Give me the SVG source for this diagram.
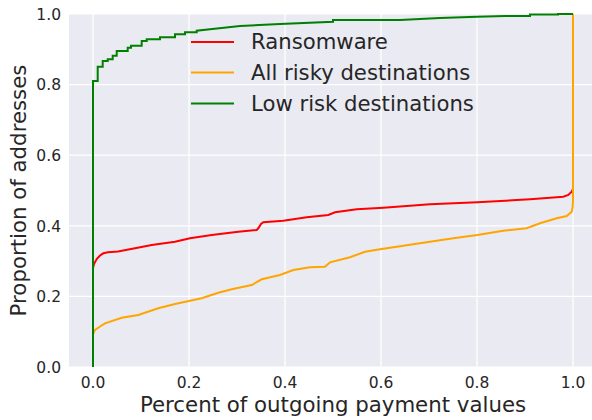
<svg xmlns="http://www.w3.org/2000/svg" width="592" height="420" viewBox="0 0 592 420">
<style>
text{font-family:"DejaVu Sans","Liberation Sans",sans-serif;fill:#262626}
.tick{font-size:15.5px}
.lab{font-size:21.3px}
.leg{font-size:21.2px}
.grid{stroke:#ffffff;stroke-width:1.2;fill:none}
.curve{fill:none;stroke-width:2;stroke-linejoin:miter}
</style>
<rect x="0" y="0" width="592" height="420" fill="#ffffff"/>
<rect id="plot-area" x="69" y="14" width="528" height="353" fill="#EAEAF2"/>
<g id="grid" class="grid">
<path d="M93,14V367M189,14V367M285,14V367M381,14V367M477,14V367M573,14V367"/>
<path d="M69,14H597M69,84.6H597M69,155.2H597M69,225.8H597M69,296.4H597M69,367H597"/>
</g>
<g id="curves">
<path id="ransomware" class="curve" stroke="#FF0000" d="M93,367V268L94,264L96.7,259L100,255.5L103.3,253.3L108,252.3L118,251.5L135,248.3L151.7,245L175,241.7L190,238.3L211.7,235L238.3,231.7L256.7,230L258.3,228.3L261,224L263.3,222.3L283.3,220.7L306.7,217.3L328.3,215L335,212.3L356.7,209.3L383.3,207.7L430,204.3L477.3,202.3L530,199.3L563.3,196.7L568.3,195L571.7,191.7L573,189V14"/>
<path id="all-risky" class="curve" stroke="#FFA500" d="M93,367V334L95,330L100,326.5L105,323.3L121.7,317.7L138.3,315L158.3,308.3L175,304L190,300.7L201.7,298.3L218.3,292.7L231.7,289.3L251.7,285L261.7,279.3L280,275L293.3,270L310,267.3L325,266.7L330,262.3L350,257.3L365,251.7L380,249.3L393.3,247.3L430,241.7L453.3,238.3L477.3,235L503.3,230.7L526.7,228.3L540,223.3L556.7,218.3L566.7,216L571.7,211.7L572.7,206.7L573,200V14"/>
<path id="low-risk" class="curve" stroke="#008000" d="M93,367V81H97.7V66.7H102.7V61H107.7V59.3H112.7V55.7H116.7V51H127.7V47.7H131V45.7H141.7V41H146.7V39.3H160V37.3H175V34.3H185V32.3H196.7V30.7L210,29.3L240,26L280,24L333,21.7V20H400L440,18L477,16.7L505,16H530V14.5H558V14H573"/>
</g>
<g id="y-ticks" class="tick" text-anchor="end">
<text x="61" y="19.8">1.0</text>
<text x="61" y="90.4">0.8</text>
<text x="61" y="161">0.6</text>
<text x="61" y="231.6">0.4</text>
<text x="61" y="302.2">0.2</text>
<text x="61" y="372.8">0.0</text>
</g>
<g id="x-ticks" class="tick" text-anchor="middle">
<text x="93" y="388">0.0</text>
<text x="189" y="388">0.2</text>
<text x="285" y="388">0.4</text>
<text x="381" y="388">0.6</text>
<text x="477" y="388">0.8</text>
<text x="573" y="388">1.0</text>
</g>
<g id="axis-labels" class="lab" text-anchor="middle">
<text x="333" y="412">Percent of outgoing payment values</text>
<text transform="translate(25.5,190.5) rotate(-90)">Proportion of addresses</text>
</g>
<g id="legend">
<g id="legend-ransomware"><path d="M191,42H234" stroke="#FF0000" stroke-width="2"/><text class="leg" x="251" y="48.5">Ransomware</text></g>
<g id="legend-all-risky"><path d="M191,72.5H234" stroke="#FFA500" stroke-width="2"/><text class="leg" x="251" y="79.5">All risky destinations</text></g>
<g id="legend-low-risk"><path d="M191,103.5H234" stroke="#008000" stroke-width="2"/><text class="leg" x="251" y="110.5">Low risk destinations</text></g>
</g>
</svg>
